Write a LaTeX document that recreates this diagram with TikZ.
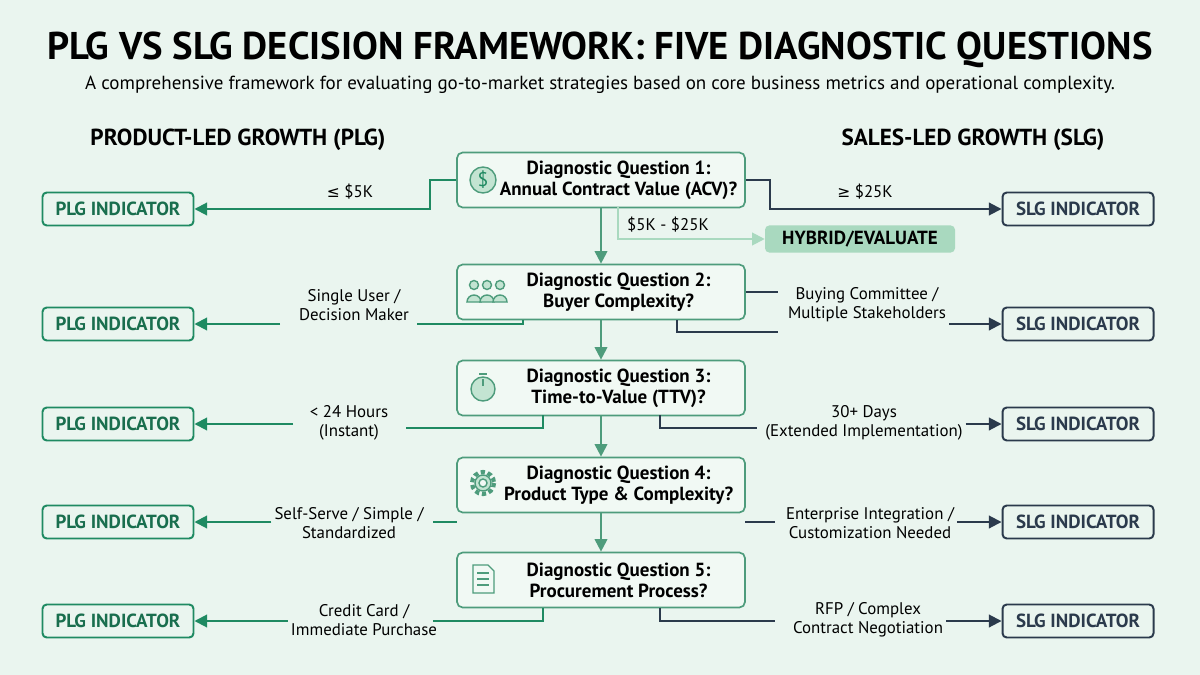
\documentclass[tikz,border=0pt]{standalone}
\usepackage{fontspec}
\setmainfont{PT Sans}
\newfontfamily\symfont{DejaVu Sans}
\usetikzlibrary{arrows.meta,positioning}
\definecolor{bgc}{HTML}{EAF5EF}
\definecolor{plg}{HTML}{1F8A62}
\definecolor{slg}{HTML}{2B3A4C}
\definecolor{hyb}{HTML}{A9D9BF}
\definecolor{qfill}{HTML}{F1F9F4}
\definecolor{qline}{HTML}{4E9C7C}
\tikzset{
    question/.style={draw=qline, fill=qfill, rounded corners=4pt, line width=1.2pt,
        minimum width=288*0.025cm, minimum height=55*0.025cm, align=center,
        font=\bfseries\fontsize{13.5}{15}\selectfont, text=black, inner sep=1pt},
    plgbox/.style={draw=plg, rounded corners=3pt, line width=1.4pt, minimum width=151*0.025cm,
        minimum height=33*0.025cm, font=\bfseries\fontsize{13.5}{15}\selectfont, text=plg!80!black},
    slgbox/.style={plgbox, draw=slg, text=slg},
    answer/.style={align=center, font=\fontsize{12}{13.5}\selectfont, inner sep=2pt},
    plgline/.style={draw=plg, line width=1.4pt},
    slgline/.style={draw=slg, line width=1.4pt},
    tip/.style={-{Triangle[length=9pt,width=9pt]}},
    icon/.style={draw=qline, fill=hyb!70, line width=1pt}
}
\begin{document}
\begin{tikzpicture}[x=0.025cm, y=-0.025cm]
\fill[bgc] (0,0) rectangle (1200,675);
\useasboundingbox (0,0) rectangle (1200,675);

% titles
\node (title) at (600,50) {\bfseries\fontsize{27.5}{30}\selectfont PLG VS SLG DECISION FRAMEWORK: FIVE DIAGNOSTIC QUESTIONS};
\node (sub) at (600,85) {\fontsize{13.5}{15}\selectfont A comprehensive framework for evaluating go-to-market strategies based on core business metrics and operational complexity.};
\node (hplg) at (238,140) {\bfseries\fontsize{16.5}{18}\selectfont PRODUCT-LED GROWTH (PLG)};
\node (hslg) at (973,140) {\bfseries\fontsize{16.5}{18}\selectfont SALES-LED GROWTH (SLG)};

% questions
\node[question] (q1) at (601,180) {\hspace{25pt}Diagnostic Question 1:\\\hspace{25pt}Annual Contract Value (ACV)?};
\node[question] (q2) at (601,292) {\hspace{25pt}Diagnostic Question 2:\\\hspace{25pt}Buyer Complexity?};
\node[question] (q3) at (601,388) {\hspace{25pt}Diagnostic Question 3:\\\hspace{25pt}Time-to-Value (TTV)?};
\node[question] (q4) at (601,485) {\hspace{25pt}Diagnostic Question 4:\\\hspace{25pt}Product Type \& Complexity?};
\node[question] (q5) at (601,580) {\hspace{25pt}Diagnostic Question 5:\\\hspace{25pt}Procurement Process?};

% indicators
\foreach\y[count=\i] in {209,324,424,522,621}{
    \node[plgbox] (p\i) at (118,\y) {PLG INDICATOR};
    \node[slgbox] (s\i) at (1078,\y) {SLG INDICATOR};
}
\node[fill=hyb, rounded corners=3pt, minimum width=190*0.025cm, minimum height=27*0.025cm,
    font=\bfseries\fontsize{13.5}{15}\selectfont] (hyb) at (860,239) {HYBRID/EVALUATE};

% icons
\node[icon, circle, minimum size=26*0.025cm, inner sep=0, font=\fontsize{14}{14}\selectfont\color{plg}] (i1) at (483,180) {\$};
\foreach\dx in {-13,0,13}{
    \draw[icon] (487+\dx,285) circle (4.5);
    \draw[icon] (480+\dx,302) arc (180:360:7) -- cycle;
}
\draw[icon] (483,389) circle (12);
\draw[qline, line width=1.2pt] (483,379) -- (483,386);
\draw[qline, line width=2pt] (479,374) -- (487,374);
\draw[icon, dashed, dash pattern=on 3pt off 2pt, line width=3pt, fill=none] (483,483) circle (11);
\draw[icon] (483,483) circle (8);
\draw[icon, fill=qfill] (483,483) circle (4);
\draw[icon, fill=qfill] (473,565) -- (488,565) -- (494,571) -- (494,593) -- (473,593) -- cycle;
\foreach\yy in {573,579,585}{\draw[qline, line width=0.8pt] (477,\yy) -- (489,\yy);}

% main flow
\foreach\a/\b in {q1/q2,q2/q3,q3/q4,q4/q5}{
    \draw[draw=qline, line width=1.4pt, tip] (\a) -- (\b);
}

% question 1
\draw[plgline, tip] (q1.west) -| (430,209) -- (p1.east);
\node[answer] (a1l) at (350,192) {{\symfont\fontsize{11}{12}\selectfont ≤} \$5K};
\draw[slgline, tip] (q1.east) -| (770,209) -- (s1.west);
\node[answer] (a1r) at (865,192) {{\symfont\fontsize{11}{12}\selectfont ≥} \$25K};
\draw[draw=hyb, line width=1.4pt, tip] (618,207) |- (hyb.west);
\node[answer] (a1m) at (668,225) {\$5K - \$25K};

% question 2
\node[answer] (a2l) at (354,305) {Single User /\\Decision Maker};
\draw[plgline] (523,320) |- (417,324);
\draw[plgline, tip] (280,324) -- (p2.east);
\node[answer] (a2r) at (867,305) {Buying Committee /\\Multiple Stakeholders};
\draw[slgline] (q2.east) -- (778,292);
\draw[slgline] (677,320) |- (778,332);
\draw[slgline, tip] (a2r.east |- s2) -- (s2.west);

% question 3
\node[answer] (a3l) at (349,423) {< 24 Hours\\(Instant)};
\draw[plgline] (543,415) |- (406,428);
\draw[plgline, tip] (293,424) -- (p3.east);
\node[answer] (a3r) at (864,423) {30+ Days\\(Extended Implementation)};
\draw[slgline] (660,415) |- (757,428);
\draw[slgline, tip] (a3r.east |- s3) -- (s3.west);

% question 4
\node[answer] (a4l) at (349,523) {Self-Serve / Simple /\\Standardized};
\draw[plgline] (433,522) -- (457,522);
\draw[plgline, tip] (a4l.west |- p4) -- (p4.east);
\node[answer] (a4r) at (870,523) {Enterprise Integration /\\Customization Needed};
\draw[slgline] (745,522) -- (775,522);
\draw[slgline, tip] (a4r.east |- s4) -- (s4.west);

% question 5
\node[answer] (a5l) at (364,620) {Credit Card /\\Immediate Purchase};
\draw[plgline] (543,608) |- (433,621);
\draw[plgline, tip] (a5l.west |- p5) -- (p5.east);
\node[answer] (a5r) at (868,620) {RFP / Complex\\Contract Negotiation};
\draw[slgline] (660,608) |- (775,621);
\draw[slgline, tip] (a5r.east |- s5) -- (s5.west);

\end{tikzpicture}
\end{document}
